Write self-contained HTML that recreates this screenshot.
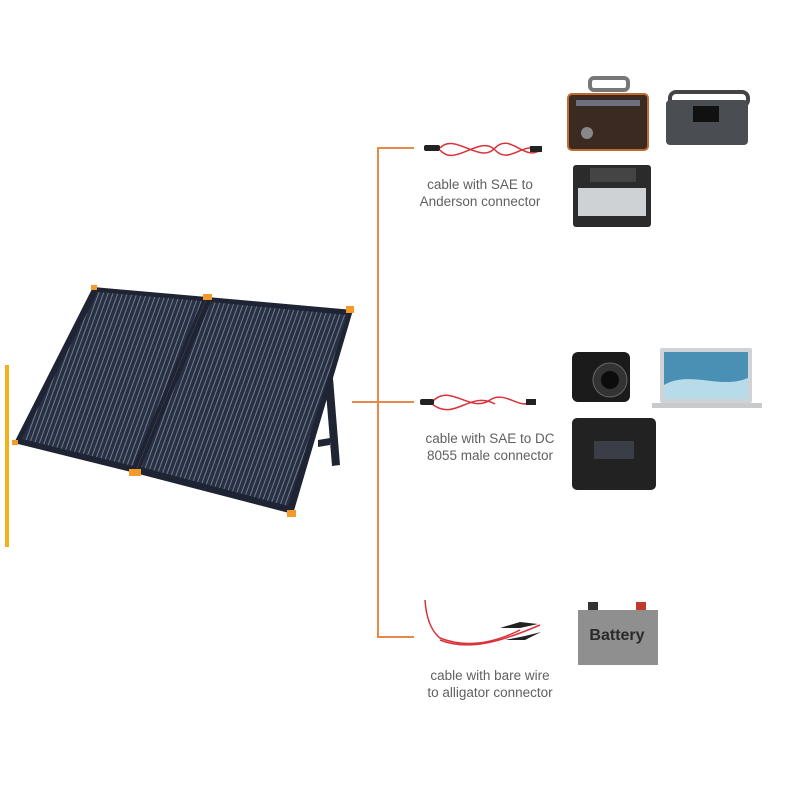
<!DOCTYPE html>
<html><head><style>
body{margin:0;width:810px;height:810px;background:#fff;position:relative;overflow:hidden;font-family:"Liberation Sans",sans-serif}
.t{position:absolute;color:#606060;font-size:13.5px;line-height:17px;text-align:center;width:200px}
</style></head><body>
<svg width="810" height="810" style="position:absolute;left:0;top:0">
<defs>
<pattern id="cells" width="4.5" height="10" patternUnits="userSpaceOnUse" patternTransform="rotate(20)">
<rect width="4.5" height="10" fill="#283044"/><rect x="3.6" width="0.9" height="10" fill="#7a8294"/>
</pattern>
</defs>
<rect x="5" y="365" width="4" height="182" fill="#f2b01c"/>
<polygon points="325,380 333,378 340,465 332,466" fill="#1f2533"/>
<polygon points="318,440 330,438 330,445 318,447" fill="#1f2533"/>
<polygon points="93,287 207,297 135,473 14,443" fill="#1e2434"/>
<polygon points="98,292 202,301 133,466 22,439" fill="url(#cells)"/>
<polygon points="207,297 353,310 293,514 135,473" fill="#1e2434"/>
<polygon points="211,302 347,315 288,506 141,467" fill="url(#cells)"/>
<g fill="#f39a2a">
<rect x="91" y="285" width="6" height="5"/><rect x="203" y="294" width="9" height="6"/><rect x="346" y="306" width="8" height="7"/>
<rect x="12" y="440" width="6" height="5"/><rect x="129" y="469" width="12" height="7"/><rect x="287" y="510" width="9" height="7"/>
</g>
<g stroke="#e8874a" stroke-width="2" fill="none">
<line x1="378" y1="147" x2="378" y2="638"/>
<line x1="378" y1="148" x2="414" y2="148"/>
<line x1="352" y1="402" x2="414" y2="402"/>
<line x1="378" y1="637" x2="414" y2="637"/>
</g>
<g fill="none" stroke="#d8333a" stroke-width="1.5">
<path d="M440,148 C455,132 480,165 495,148 C510,132 525,162 540,150"/>
<path d="M440,150 C455,168 480,134 495,150 C510,166 525,138 540,152"/>
<path d="M432,402 C450,382 470,414 490,400 C505,390 520,410 530,402"/>
<path d="M432,404 C455,422 470,390 495,404"/>
<path d="M425,600 C426,615 430,630 440,638 C470,650 500,640 520,630"/>
<path d="M440,640 C470,652 505,640 540,625"/>
</g>
<g fill="#222">
<rect x="424" y="145" width="16" height="6" rx="2"/><rect x="530" y="146" width="12" height="6"/>
<rect x="420" y="399" width="14" height="6" rx="2"/><rect x="526" y="399" width="10" height="6"/>
<path d="M500,628 l20,-6 l18,2 l-18,4z"/><path d="M505,640 l20,-4 l16,-4 l-16,8z"/>
</g>
<rect x="590" y="78" width="38" height="12" rx="4" fill="none" stroke="#777" stroke-width="4"/>
<rect x="568" y="94" width="80" height="56" rx="4" fill="#3a2a22" stroke="#c06a30" stroke-width="2"/>
<rect x="576" y="100" width="64" height="6" fill="#6c7080"/>
<circle cx="587" cy="133" r="6" fill="#888"/>
<rect x="670" y="92" width="78" height="14" rx="6" fill="none" stroke="#444" stroke-width="4"/>
<rect x="666" y="100" width="82" height="45" rx="4" fill="#4a4d52"/>
<rect x="693" y="106" width="26" height="16" fill="#111"/>
<rect x="573" y="165" width="78" height="62" rx="3" fill="#2b2b2b"/>
<rect x="578" y="188" width="68" height="28" fill="#cfd2d4"/>
<rect x="590" y="168" width="46" height="14" fill="#444"/>
<rect x="572" y="352" width="58" height="50" rx="6" fill="#1b1b1b"/>
<circle cx="610" cy="380" r="17" fill="#333" stroke="#666"/><circle cx="610" cy="380" r="9" fill="#0c0c0c"/>
<rect x="660" y="348" width="92" height="55" rx="2" fill="#cfd3d6"/>
<rect x="664" y="352" width="84" height="47" fill="#4a90b5"/>
<path d="M664,385 C690,370 720,390 748,378 L748,399 L664,399z" fill="#b8dbe9"/>
<rect x="652" y="403" width="110" height="5" fill="#c8cacc"/>
<rect x="572" y="418" width="84" height="72" rx="5" fill="#222"/>
<rect x="594" y="441" width="40" height="18" fill="#3a3e46"/>
<rect x="578" y="610" width="80" height="55" fill="#8f8f8f"/>
<rect x="588" y="602" width="10" height="8" fill="#333"/><rect x="636" y="602" width="10" height="8" fill="#c0392b"/>
<text x="617" y="640" text-anchor="middle" font-family="Liberation Sans,sans-serif" font-size="16" font-weight="bold" fill="#2a2a2a">Battery</text>
</svg>
<div class="t" style="left:380px;top:176px">cable with SAE to<br>Anderson connector</div>
<div class="t" style="left:390px;top:430px">cable with SAE to DC<br>8055 male connector</div>
<div class="t" style="left:390px;top:667px">cable with bare wire<br>to alligator connector</div>
</body></html>
